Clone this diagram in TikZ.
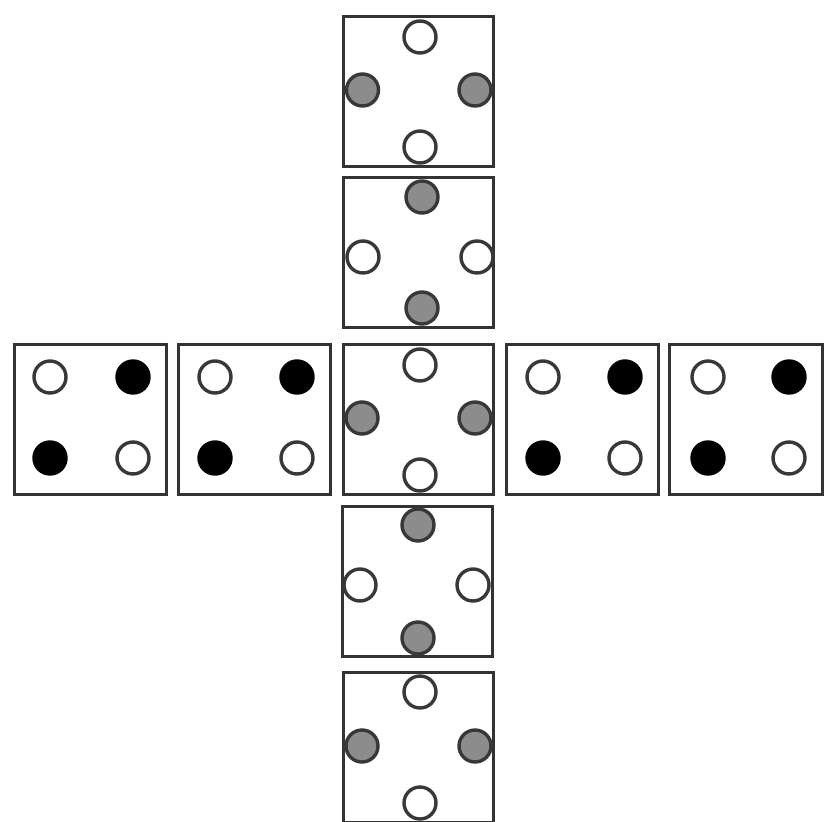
\documentclass[tikz,border=0pt]{standalone}
\begin{document}
\begin{tikzpicture}[x=1pt,y=-1pt,
  face/.style={draw=black!80,line width=3pt,fill=white,minimum width=150pt,minimum height=150pt,inner sep=0pt,outer sep=0pt},
  dot/.style={circle,draw=black!78,line width=3.4pt,minimum size=32pt,inner sep=0pt},
  wdot/.style={dot,fill=white},
  gdot/.style={dot,fill=black!45},
  bdot/.style={dot,fill=black,draw=black}]
\useasboundingbox (0,0) rectangle (826,821);
\clip (0,0) rectangle (826,821);
\fill[white] (0,0) rectangle (826,821);
% column faces
\node[face] (c1) at (418.5,91.5) {};
\node[face] (c2) at (418.5,252.5) {};
\node[face] (c3) at (418.5,419.5) {};
\node[face] (c4) at (417.5,581) {};
\node[face] (c5) at (418,747.5) {};
% row faces
\node[face,minimum width=152pt] (r1) at (90,419.5) {};
\node[face,minimum width=152pt] (r2) at (254,419.5) {};
\node[face,minimum width=152pt] (r4) at (582.5,419.5) {};
\node[face,minimum width=153pt] (r5) at (745.5,419.5) {};
% c1
\node[wdot] (c1t) at (420,37) {};
\node[wdot] (c1b) at (420,147) {};
\node[gdot] (c1l) at (362.5,90) {};
\node[gdot] (c1r) at (475,90) {};
% c2
\node[gdot] (c2t) at (422,197) {};
\node[gdot] (c2b) at (422,308) {};
\node[wdot] (c2l) at (363,257) {};
\node[wdot] (c2r) at (477,257) {};
% c3
\node[wdot] (c3t) at (420,365) {};
\node[wdot] (c3b) at (420,475) {};
\node[gdot] (c3l) at (362,418) {};
\node[gdot] (c3r) at (475,418) {};
% c4
\node[gdot] (c4t) at (418,525) {};
\node[gdot] (c4b) at (418,638) {};
\node[wdot] (c4l) at (360,585) {};
\node[wdot] (c4r) at (473,585) {};
% c5
\node[wdot] (c5t) at (420,692) {};
\node[wdot] (c5b) at (420,803) {};
\node[gdot] (c5l) at (362,746) {};
\node[gdot] (c5r) at (475,746) {};
% r1
\node[wdot] (r1a) at (50,377) {};
\node[bdot] (r1b) at (133,377) {};
\node[bdot] (r1c) at (50,458) {};
\node[wdot] (r1d) at (133,458) {};
% r2
\node[wdot] (r2a) at (215,377) {};
\node[bdot] (r2b) at (297,377) {};
\node[bdot] (r2c) at (215,458) {};
\node[wdot] (r2d) at (297,458) {};
% r4
\node[wdot] (r4a) at (543,377) {};
\node[bdot] (r4b) at (625,377) {};
\node[bdot] (r4c) at (543,458) {};
\node[wdot] (r4d) at (625,458) {};
% r5
\node[wdot] (r5a) at (708,377) {};
\node[bdot] (r5b) at (789,377) {};
\node[bdot] (r5c) at (708,458) {};
\node[wdot] (r5d) at (789,458) {};
\end{tikzpicture}
\end{document}
